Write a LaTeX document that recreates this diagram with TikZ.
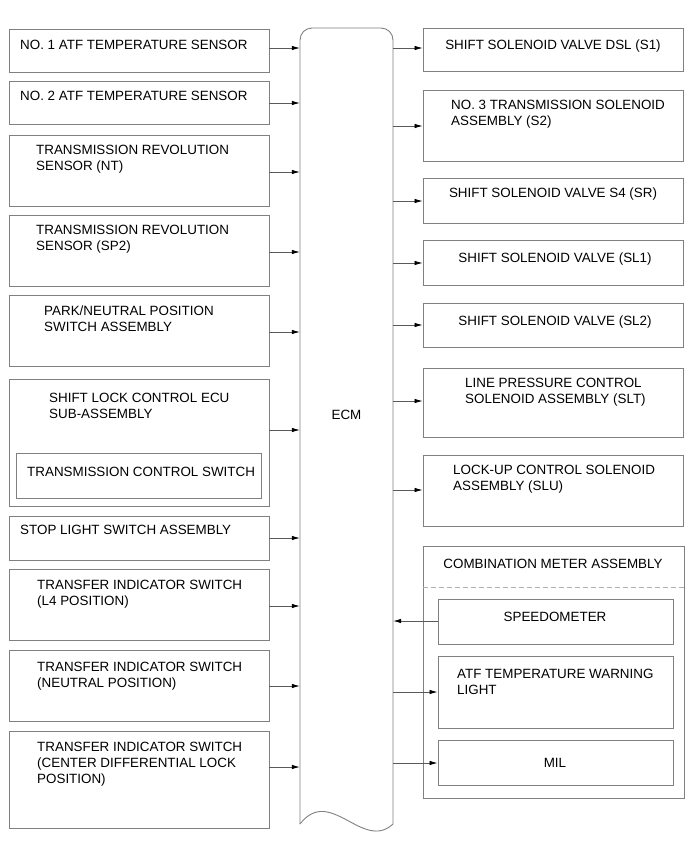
\documentclass[tikz,border=0pt]{standalone}
\usepackage{fontspec}
\setmainfont{Liberation Sans}
\usetikzlibrary{arrows.meta}
\definecolor{boxgray}{RGB}{128,128,128}
\definecolor{linegray}{RGB}{90,90,90}
\definecolor{dashgray}{RGB}{175,175,175}
\tikzset{
  blk/.style={draw=boxgray, line width=0.9pt, rectangle, inner sep=0pt, fill=white},
  txt/.style={inner sep=0pt, align=left, font=\fontsize{13.4}{16}\selectfont},
  ctxt/.style={inner sep=0pt, align=center, font=\fontsize{13.4}{16}\selectfont},
  arr/.style={draw=linegray, line width=0.8pt, -{Latex[length=8pt,width=4.5pt,black]}},
}
\newcommand{\mkbox}[5]{\node[blk, minimum width={#4-#2}, minimum height={#5-#3}] (#1) at ({(#2+#4)/2},{(#3+#5)/2}) {};}
\begin{document}
\begin{tikzpicture}[x=1pt,y=-1pt]
\useasboundingbox (0,0) rectangle (691,855);
% ECM
\node[inner sep=0pt, minimum width=93, minimum height=796] (ecm) at (346.5,426) {};
\draw[draw=boxgray, line width=0.9pt, rounded corners=12pt] (300,824) -- (300,28) -- (393,28) -- (393,824);
\draw[draw=boxgray, line width=0.9pt] (300,824) .. controls (330,785) and (363,852) .. (393,824);
\node[ctxt] (ecmt) at (346.5,415) {ECM};
% left boxes
\mkbox{L1}{9}{29}{269}{72}
\mkbox{L2}{9}{81}{269}{124}
\mkbox{L3}{9}{135}{269}{206}
\mkbox{L4}{9}{215}{269}{286}
\mkbox{L5}{9}{295}{269}{366}
\mkbox{L6}{9}{379}{269}{506}
\mkbox{L6i}{16}{453}{261}{498}
\mkbox{L7}{9}{516}{269}{560}
\mkbox{L8}{9}{569}{269}{640}
\mkbox{L9}{9}{650}{269}{721}
\mkbox{L10}{9}{731}{269}{828}
\node[txt, anchor=north west] (L1t) at (20,40.2) {NO. 1 ATF TEMPERATURE SENSOR};
\node[txt, anchor=north west] (L2t) at (20,91.2) {NO. 2 ATF TEMPERATURE SENSOR};
\node[txt, anchor=north west] (L3t) at (36,145.2) {TRANSMISSION REVOLUTION\\SENSOR (NT)};
\node[txt, anchor=north west] (L4t) at (36,225.2) {TRANSMISSION REVOLUTION\\SENSOR (SP2)};
\node[txt, anchor=north west] (L5t) at (44,305.2) {PARK/NEUTRAL POSITION\\SWITCH ASSEMBLY};
\node[txt, anchor=north west] (L6t) at (49,393.2) {SHIFT LOCK CONTROL ECU\\SUB-ASSEMBLY};
\node[txt, anchor=north west] (L6it) at (27,467.2) {TRANSMISSION CONTROL SWITCH};
\node[txt, anchor=north west] (L7t) at (20,525.2) {STOP LIGHT SWITCH ASSEMBLY};
\node[txt, anchor=north west] (L8t) at (37,580.2) {TRANSFER INDICATOR SWITCH\\(L4 POSITION)};
\node[txt, anchor=north west] (L9t) at (37,662.2) {TRANSFER INDICATOR SWITCH\\(NEUTRAL POSITION)};
\node[txt, anchor=north west] (L10t) at (37,742.2) {TRANSFER INDICATOR SWITCH\\(CENTER DIFFERENTIAL LOCK\\POSITION)};
% left arrows
\foreach \n/\yy in {L1/48,L2/103,L3/172,L4/252,L5/332,L6/430,L7/538,L8/606,L9/686,L10/767}
  \draw[arr] (\n.east |- 0,\yy) -- (ecm.west |- 0,\yy);
% right boxes
\mkbox{R1}{423}{28}{683}{71}
\mkbox{R2}{423}{90}{683}{161}
\mkbox{R3}{423}{178}{683}{223}
\mkbox{R4}{423}{240}{683}{285}
\mkbox{R5}{423}{303}{683}{347}
\mkbox{R6}{423}{368}{683}{437}
\mkbox{R7}{423}{455}{683}{526}
\mkbox{CM}{423}{546}{684}{798}
\mkbox{SPD}{438}{599}{673}{644}
\mkbox{ATF}{438}{656}{673}{728}
\mkbox{MIL}{438}{740}{673}{785}
\draw[draw=dashgray, line width=0.9pt, dash pattern=on 5pt off 3pt] (CM.west |- 0,587) -- (CM.east |- 0,587);
\node[ctxt, anchor=north] (R1t) at (553,39.2) {SHIFT SOLENOID VALVE DSL (S1)};
\node[txt, anchor=north west] (R2t) at (451,100.2) {NO. 3 TRANSMISSION SOLENOID\\ASSEMBLY (S2)};
\node[ctxt, anchor=north] (R3t) at (553,187.2) {SHIFT SOLENOID VALVE S4 (SR)};
\node[ctxt, anchor=north] (R4t) at (555,252.2) {SHIFT SOLENOID VALVE (SL1)};
\node[ctxt, anchor=north] (R5t) at (555,315.2) {SHIFT SOLENOID VALVE (SL2)};
\node[txt, anchor=north west] (R6t) at (465,378.2) {LINE PRESSURE CONTROL\\SOLENOID ASSEMBLY (SLT)};
\node[txt, anchor=north west] (R7t) at (453,465.2) {LOCK-UP CONTROL SOLENOID\\ASSEMBLY (SLU)};
\node[ctxt, anchor=north] (CMt) at (553,559.2) {COMBINATION METER ASSEMBLY};
\node[ctxt, anchor=north] (SPDt) at (555,612.2) {SPEEDOMETER};
\node[txt, anchor=north west] (ATFt) at (457,669.2) {ATF TEMPERATURE WARNING\\LIGHT};
\node[ctxt, anchor=north] (MILt) at (555,758.2) {MIL};
% right arrows
\foreach \n/\yy in {R1/48,R2/126,R3/201,R4/263,R5/325,R6/401,R7/490,ATF/692,MIL/763}
  \draw[arr] (ecm.east |- 0,\yy) -- (\n.west |- 0,\yy);
\draw[arr] (SPD.west |- 0,621) -- (ecm.east |- 0,621);
\end{tikzpicture}
\end{document}
